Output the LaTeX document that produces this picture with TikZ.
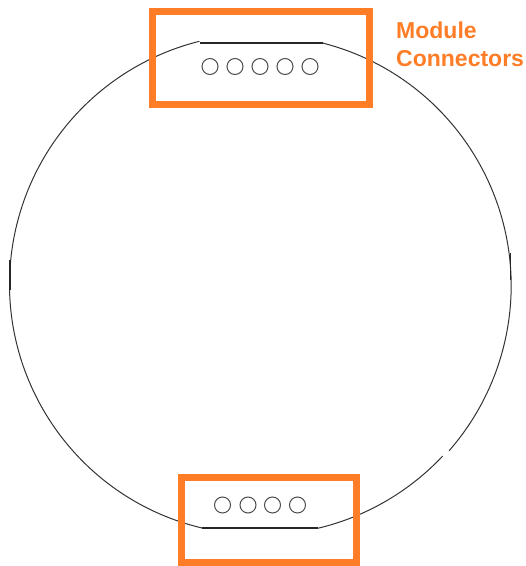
\documentclass[tikz,border=0pt]{standalone}
\usepackage{fontspec}
\setmainfont{Liberation Sans}
\definecolor{markorange}{RGB}{255,125,38}
\tikzset{
	outline/.style={line width=1pt,color=black!80},
	flat/.style={line width=1.3pt,color=black!85},
	pin/.style={circle,draw,line width=1pt,color=black!70,minimum size=16pt,inner sep=0pt},
	markbox/.style={line width=7pt,color=markorange},
	marktext/.style={color=markorange,font=\bfseries\fontsize{23}{28}\selectfont,align=left,anchor=north west,inner sep=0pt}
}

\begin{document}
\begin{tikzpicture}[x=1pt,y=-1pt]
	\useasboundingbox (0,0) rectangle (526,566);
	% outline with the two flats
	\draw [outline] (322.5,43) arc [start angle=75.7,end angle=-41.2,radius=250.5pt];
	\draw [outline] (442.7,456) arc [start angle=-43.2,end angle=-76.6,radius=250.5pt];
	\draw [outline] (202,528) arc [start angle=-103.4,end angle=-256,radius=250.5pt];
	\draw [flat] (200,43) -- (322.5,43);
	\draw [flat] (202,528) -- (318,528);
	\draw [flat] (10,260) -- (10,290);
	\draw [flat] (510.5,253) -- (510.5,280);
	% connector pins
	\foreach \i/\px in {1/210,2/235,3/260,4/285,5/310}
		\node [pin] (top\i) at (\px,66.5) {};
	\foreach \i/\px in {1/222.5,2/248,3/272.5,4/297.5}
		\node [pin] (bot\i) at (\px,505) {};
	% orange marks
	\draw [markbox] (152.5,11) rectangle (369,104.5);
	\draw [markbox] (181.5,477) rectangle (356,562.5);
	\node [marktext] (label) at (396,22) {Module\\Connectors};
\end{tikzpicture}
\end{document}
